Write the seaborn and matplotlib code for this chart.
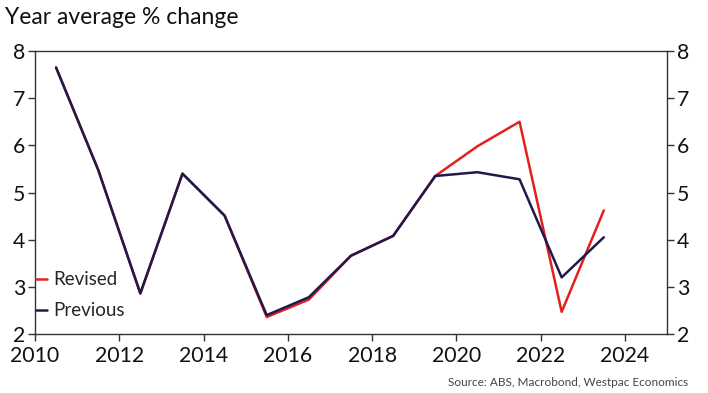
import matplotlib
matplotlib.use("Agg")
import matplotlib.pyplot as plt
import seaborn as sns
import pandas as pd

years = [2010.5, 2011.5, 2012.5, 2013.5, 2014.5, 2015.5, 2016.5, 2017.5,
         2018.5, 2019.5, 2020.5, 2021.5, 2022.5, 2023.5]
revised = [7.65, 5.48, 2.86, 5.40, 4.51, 2.36, 2.73, 3.66, 4.08, 5.35, 5.98, 6.50, 2.47, 4.62]
previous = [7.65, 5.48, 2.86, 5.40, 4.51, 2.40, 2.78, 3.66, 4.08, 5.35, 5.43, 5.28, 3.20, 4.05]
series_names = ["Revised", "Previous"]
xticks = [2010, 2012, 2014, 2016, 2018, 2020, 2022, 2024]
yticks = [2, 3, 4, 5, 6, 7, 8]

sns.set_theme(style="white")
plt.rcParams['font.family'] = ['Lato', 'DejaVu Sans']

df = pd.DataFrame({
    "year": years * 2,
    "value": revised + previous,
    "series": [series_names[0]] * len(years) + [series_names[1]] * len(years),
})

fig = plt.figure(figsize=(7.08, 3.93), dpi=100)
ax = fig.add_axes([35/708, 1-334/393, (667-35)/708, (334-51)/393])
palette = {"Revised": "#e3211c", "Previous": "#1f1a4d"}
sns.lineplot(data=df, x="year", y="value", hue="series", palette=palette,
             linewidth=1.8, ax=ax, legend=True)

ax.set_xlim(2010, 2025)
ax.set_ylim(2, 8)
ax.set_xticks(xticks)
ax.set_yticks(yticks)
ax.set_xlabel("")
ax.set_ylabel("")
for s in ax.spines.values():
    s.set_color("#333333")
    s.set_linewidth(1.0)
ax.tick_params(axis="both", which="both", direction="out", length=5, width=1,
               color="#333333", labelsize=15.3, labelcolor="#111111",
               bottom=True, left=True, right=True, labelright=True, pad=2)
ax.tick_params(axis="x", pad=4)

leg = ax.legend(loc="lower left", bbox_to_anchor=(-0.01, 0.025), frameon=False,
                handlelength=0.6, handletextpad=0.3, fontsize=13.5,
                labelspacing=0.75, borderaxespad=0)

fig.text(5/708, 1-18/393, "Year average % change", fontsize=16.5, color="#111111",
         ha="left", va="center")
fig.text(688/708, 1-382/393, "Source: ABS, Macrobond, Westpac Economics",
         fontsize=8.5, color="#444444", ha="right", va="center")

fig.savefig("out.png", dpi=100)
